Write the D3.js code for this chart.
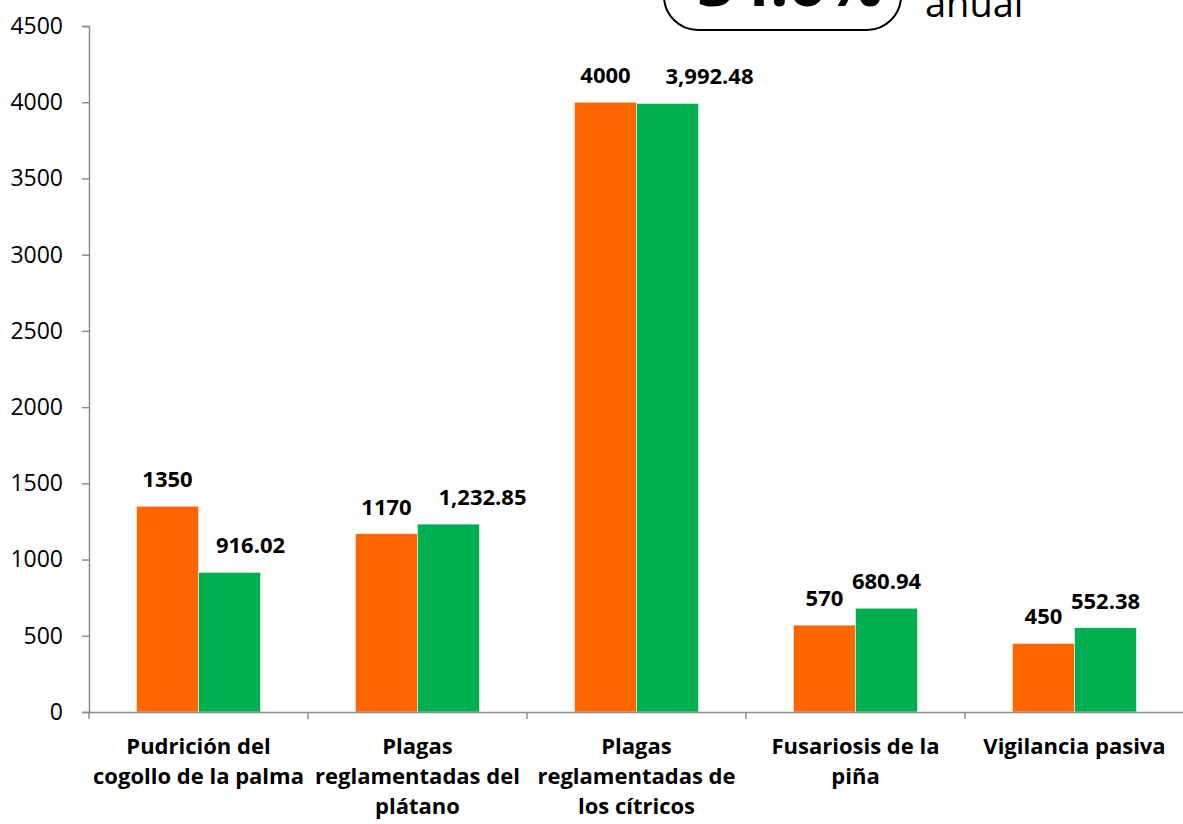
<!DOCTYPE html>
<meta charset="utf-8">
<style>
body { margin: 0; background: #fff; }
svg { font-family: "Open Sans", sans-serif; }
</style>
<svg width="1183" height="824"></svg>
<script src="https://cdn.jsdelivr.net/npm/d3@7"></script>
<script>
// data
var categories = [
  ["Pudrición del", "cogollo de la palma"],
  ["Plagas", "reglamentadas del", "plátano"],
  ["Plagas", "reglamentadas de", "los cítricos"],
  ["Fusariosis de la", "piña"],
  ["Vigilancia pasiva"]
];
var seriesNames = ["meta", "logrado"];
var orangeValues = [1350, 1170, 4000, 570, 450];
var greenValues = [916.02, 1232.85, 3992.48, 680.94, 552.38];
var yTicks = [0, 500, 1000, 1500, 2000, 2500, 3000, 3500, 4000, 4500];
var badgeText = "34.6%";
var badgeNote = "anual";

// labels of the green bars were nudged sideways in the original
var greenLabelNudge = [21, 34, 42, 0, 0];

var svg = d3.select("svg");
var colors = ["#ff6600", "#00b050"];
var axisColor = "#8c8c8c";

var mLeft = 89, mRight = 1184, mTop = 26, mBottom = 712;

var x0 = d3.scaleBand()
    .domain(d3.range(categories.length))
    .range([mLeft, mRight])
    .paddingInner(0)
    .paddingOuter(0);

var x1 = d3.scaleBand()
    .domain(d3.range(seriesNames.length))
    .range([0, x0.bandwidth()])
    .paddingOuter(0.766)
    .paddingInner(0);

var y = d3.scaleLinear().domain([0, 4500]).range([mBottom, mTop]);

var rows = categories.map(function(c, i) {
  return { i: i, values: [orangeValues[i], greenValues[i]] };
});

// y axis
var yAxis = svg.append("g")
    .attr("transform", "translate(" + mLeft + ",0)")
    .call(d3.axisLeft(y).tickValues(yTicks).tickSize(7).tickPadding(19).tickFormat(d3.format("d")));
yAxis.selectAll("path, line").attr("stroke", axisColor).attr("stroke-width", 1.5);
yAxis.selectAll("text").attr("font-size", 23).attr("fill", "#000").attr("font-family", "Open Sans");

// bars
var g = svg.selectAll(".cat")
    .data(rows)
  .enter().append("g")
    .attr("class", "cat")
    .attr("transform", function(d) { return "translate(" + x0(d.i) + ",0)"; });

g.selectAll("rect")
    .data(function(d) { return d.values.map(function(v, k) { return { k: k, v: v }; }); })
  .enter().append("rect")
    .attr("x", function(d) { return x1(d.k); })
    .attr("width", x1.bandwidth())
    .attr("y", function(d) { return y(d.v); })
    .attr("height", function(d) { return mBottom - y(d.v); })
    .attr("fill", function(d) { return colors[d.k]; })
    .attr("stroke", "#fff")
    .attr("stroke-width", 0.5);

// value labels
g.selectAll(".val")
    .data(function(d) { return d.values.map(function(v, k) { return { k: k, v: v, i: d.i }; }); })
  .enter().append("text")
    .attr("class", "val")
    .attr("x", function(d) { return x1(d.k) + x1.bandwidth() / 2 + (d.k === 1 ? greenLabelNudge[d.i] : 0); })
    .attr("y", function(d) { return y(d.v) - 19; })
    .attr("text-anchor", "middle")
    .attr("font-weight", "bold")
    .attr("font-size", 22)
    .text(function(d) { return d.k === 0 ? d3.format("d")(d.v) : d3.format(",.2f")(d.v); });

// x axis
var xAxis = svg.append("g")
    .attr("transform", "translate(0," + mBottom + ")")
    .call(d3.axisBottom(x0).tickSize(0).tickFormat(""));
xAxis.select(".domain").attr("stroke", axisColor).attr("stroke-width", 1.5);
xAxis.selectAll(".tick").remove();
xAxis.selectAll(".sep")
    .data(d3.range(categories.length + 1))
  .enter().append("line")
    .attr("x1", function(d) { return mLeft + d * x0.step(); })
    .attr("x2", function(d) { return mLeft + d * x0.step(); })
    .attr("y1", 0).attr("y2", 7)
    .attr("stroke", axisColor).attr("stroke-width", 1.5);

// category labels
svg.selectAll(".cl")
    .data(rows)
  .enter().append("text")
    .attr("class", "cl")
    .attr("text-anchor", "middle")
    .attr("font-weight", "bold")
    .attr("font-size", 22)
  .selectAll("tspan")
    .data(function(d) { return categories[d.i].map(function(s, j) { return { s: s, j: j, i: d.i }; }); })
  .enter().append("tspan")
    .attr("x", function(d) { return x0(d.i) + x0.bandwidth() / 2; })
    .attr("y", function(d) { return 754 + d.j * 30; })
    .text(function(d) { return d.s; });

// the badge that is cut off at the top
svg.append("rect")
    .attr("x", 664).attr("y", -60)
    .attr("width", 237).attr("height", 90)
    .attr("rx", 34).attr("ry", 34)
    .attr("fill", "none").attr("stroke", "#000").attr("stroke-width", 2);
svg.append("text")
    .attr("x", 790).attr("y", 6)
    .attr("text-anchor", "middle")
    .attr("font-weight", "bold")
    .attr("font-size", 64)
    .text(badgeText);
svg.append("text")
    .attr("x", 925).attr("y", 17)
    .attr("font-size", 38)
    .text(badgeNote);
</script>
